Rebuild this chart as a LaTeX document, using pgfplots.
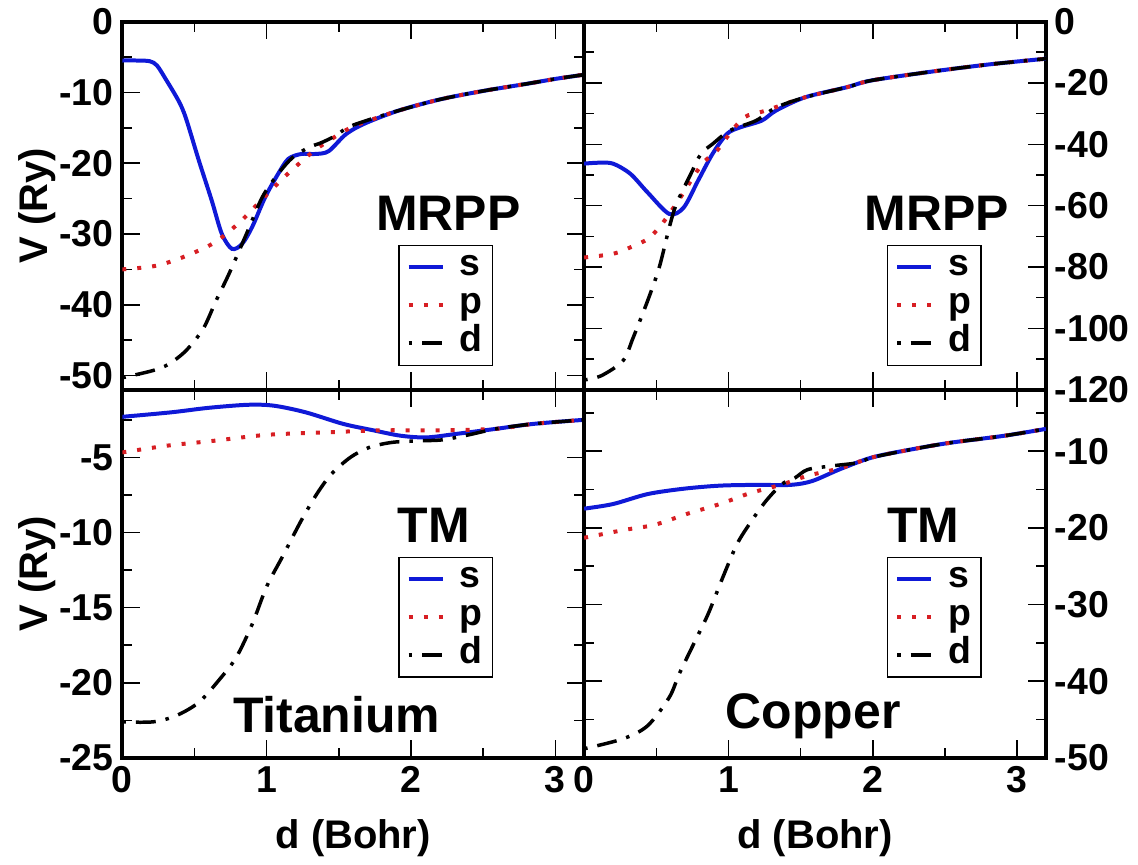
\documentclass[border=0pt]{standalone}
\usepackage{fontspec}
\setmainfont{Liberation Sans}
\usepackage{pgfplots}
\pgfplotsset{compat=1.18}
\usepgfplotslibrary{groupplots}

\definecolor{sblue}{RGB}{15,25,215}
\definecolor{pred}{RGB}{215,30,35}

\pgfplotsset{
  sline/.style={sblue, line width=1.6pt, smooth},
  pline/.style={pred, line width=1.6pt, dash pattern=on 1.6pt off 4.4pt, smooth},
  dline/.style={black, line width=1.4pt, dash pattern=on 1.4pt off 4pt on 8pt off 4pt, smooth},
  lgd/.style={legend style={at={(#1)}, anchor=north west, draw=black, line width=0.5pt,
      font=\bfseries\fontsize{15}{15}\selectfont, inner xsep=3pt, inner ysep=1.2pt,
      nodes={inner sep=1pt, text height=10pt, text depth=3.2pt},
      /tikz/every odd column/.append style={column sep=5pt},
      row sep=0pt, legend cell align=left}},
}
\tikzset{bigtxt/.style={font=\bfseries\fontsize{20}{20}\selectfont, anchor=base}}

\begin{document}
\begin{tikzpicture}
\begin{groupplot}[
  group style={group size=2 by 2, horizontal sep=0pt, vertical sep=0pt,
    x descriptions at=edge bottom},
  width=185pt, height=147.5pt, scale only axis,
  xmin=0, xmax=3.2, xtick={0,1,2,3}, minor xtick={0.5,1.5,2.5},
  tick align=inside, major tick length=7pt, minor tick length=4pt,
  every tick/.style={black, line width=0.6pt},
  axis line style={line width=1.6pt},
  tick label style={font=\bfseries\fontsize{15}{15}\selectfont},
  /pgf/number format/assume math mode=true,
  label style={font=\bfseries\fontsize{16}{16}\selectfont},
  xlabel={d (Bohr)}, xlabel shift=3.5pt, ylabel shift=-5.5pt,
  legend image code/.code={\draw[#1] (0pt,0pt) -- (13.6pt,0pt);},
]

% top left: Ti MRPP
\nextgroupplot[ymin=-52, ymax=0, ytick={0,-10,...,-50}, minor ytick={-5,-15,...,-45},
  ylabel={V (Ry)}, lgd={0.598,0.394}]
\coordinate (tl) at (rel axis cs:0,1);
\addplot[sline] coordinates {
 (0,-5.5) (0.1,-5.5) (0.19,-5.6) (0.24,-6.2) (0.30,-8.1) (0.39,-11.2) (0.44,-13.6)
 (0.53,-19.6) (0.62,-25.3) (0.69,-30.0) (0.76,-32.1) (0.83,-31.4) (0.9,-29) (0.99,-24.8)
 (1.08,-21.5) (1.15,-19.4) (1.24,-18.7) (1.34,-18.7) (1.43,-18.3) (1.55,-15.9) (1.68,-14.4)
 (1.91,-12.6) (2.2,-11.0) (2.5,-9.8) (2.8,-8.8) (3.0,-8.1) (3.2,-7.5)};
\addlegendentry{s}
\addplot[pline] coordinates {
 (0,-35) (0.23,-34.5) (0.43,-33.2) (0.64,-31.2) (0.81,-28.4) (0.96,-25.3) (1.12,-22)
 (1.29,-18.9) (1.38,-17.5) (1.57,-15.1) (1.68,-14.2) (1.91,-12.6) (2.2,-11.0) (2.5,-9.8)
 (2.8,-8.8) (3.0,-8.1) (3.2,-7.5)};
\addlegendentry{p}
\addplot[dline] coordinates {
 (0,-50.3) (0.21,-49.3) (0.32,-48.4) (0.44,-46.5) (0.56,-43.4) (0.65,-39.4) (0.74,-35.6)
 (0.86,-30) (0.97,-24.8) (1.08,-21.5) (1.18,-19.2) (1.29,-17.8) (1.38,-17.1) (1.48,-16.1)
 (1.59,-14.7) (1.91,-12.6) (2.2,-11.0) (2.5,-9.8) (2.8,-8.8) (3.0,-8.1) (3.2,-7.5)};
\addlegendentry{d}
\node[bigtxt] at (rel axis cs:0.706,0.432) {MRPP};

% top right: Cu MRPP
\nextgroupplot[ymin=-120, ymax=0, ytick={0,-20,...,-120}, minor ytick={-10,-30,...,-110},
  yticklabel pos=right, lgd={0.656,0.394}]
\addplot[sline] coordinates {
 (0,-46.3) (0.1,-46.0) (0.2,-46.3) (0.32,-49.6) (0.44,-55.7) (0.59,-62.7) (0.69,-60.6)
 (0.79,-51.8) (0.89,-43.1) (0.99,-36.6) (1.08,-34.5) (1.23,-32.3) (1.33,-29) (1.53,-24.7)
 (1.82,-21.4) (1.99,-19.2) (2.41,-16.3) (2.8,-14.0) (3.2,-12.1)};
\addlegendentry{s}
\addplot[pline] coordinates {
 (0,-76.9) (0.2,-75.7) (0.32,-73.6) (0.44,-70.9) (0.52,-67.1) (0.59,-62.7) (0.69,-55.7)
 (0.77,-49.6) (0.84,-45.3) (0.92,-42.1) (0.99,-37.7) (1.11,-31.2) (1.26,-29) (1.53,-24.7)
 (1.82,-21.4) (1.99,-19.2) (2.41,-16.3) (2.8,-14.0) (3.2,-12.1)};
\addlegendentry{p}
\addplot[dline] coordinates {
 (0,-116.8) (0.12,-115.4) (0.27,-110.5) (0.34,-103) (0.44,-91) (0.52,-80.2) (0.59,-67.1)
 (0.64,-59.4) (0.74,-49.6) (0.81,-43.1) (0.89,-39.9) (1.01,-35.5) (1.19,-32.3) (1.33,-28)
 (1.53,-24.7) (1.82,-21.4) (1.99,-19.2) (2.41,-16.3) (2.8,-14.0) (3.2,-12.1)};
\addlegendentry{d}
\node[bigtxt] at (rel axis cs:0.764,0.432) {MRPP};

% bottom left: Ti TM
\nextgroupplot[ymin=-25, ymax=-0.5, ytick={-5,-10,...,-25}, minor ytick={-2.5,-7.5,...,-22.5},
  ylabel={V (Ry)}, lgd={0.598,0.547}]
\addplot[sline] coordinates {
 (0,-2.3) (0.34,-2.0) (0.6,-1.7) (0.87,-1.5) (1.05,-1.56) (1.27,-2.0) (1.53,-2.77)
 (1.74,-3.2) (1.93,-3.56) (2.11,-3.67) (2.32,-3.43) (2.59,-3.1) (2.85,-2.77) (3.2,-2.5)};
\addlegendentry{s}
\addplot[pline] coordinates {
 (0,-4.67) (0.31,-4.22) (0.63,-3.9) (1.0,-3.5) (1.4,-3.34) (1.8,-3.2) (2.19,-3.2)
 (2.59,-3.1) (2.85,-2.77) (3.2,-2.5)};
\addlegendentry{p}
\addplot[dline] coordinates {
 (0,-22.6) (0.21,-22.6) (0.37,-22.2) (0.53,-21.3) (0.68,-19.7) (0.79,-18.3) (0.9,-16.1)
 (1.0,-13.6) (1.11,-11.6) (1.24,-9.2) (1.35,-7.4) (1.45,-6.1) (1.58,-5.0) (1.71,-4.34)
 (1.87,-4.0) (2.06,-3.9) (2.22,-3.83) (2.4,-3.5) (2.59,-3.1) (2.85,-2.77) (3.2,-2.5)};
\addlegendentry{d}
\node[bigtxt] at (rel axis cs:0.674,0.585) {TM};
\node[bigtxt] at (rel axis cs:0.464,0.068) {Titanium};

% bottom right: Cu TM
\nextgroupplot[ymin=-50, ymax=-2, ytick={-10,-20,...,-50}, minor ytick={-5,-15,...,-45},
  yticklabel pos=right, lgd={0.656,0.547}]
\addplot[sline] coordinates {
 (0,-17.5) (0.2,-16.9) (0.44,-15.6) (0.69,-14.9) (0.94,-14.5) (1.19,-14.4) (1.43,-14.4)
 (1.58,-13.9) (1.78,-12.3) (2.0,-10.8) (2.29,-9.7) (2.54,-8.9) (2.91,-8.0) (3.2,-7.1)};
\addlegendentry{s}
\addplot[pline] coordinates {
 (0,-21.3) (0.27,-20.3) (0.49,-19.6) (0.71,-18.2) (0.94,-16.9) (1.13,-15.6) (1.26,-14.9)
 (1.38,-14.3) (1.55,-13.2) (1.78,-12.2) (2.0,-10.8) (2.29,-9.7) (2.54,-8.9) (2.91,-8.0)
 (3.2,-7.1)};
\addlegendentry{p}
\addplot[dline] coordinates {
 (0,-48.8) (0.27,-47.5) (0.44,-45.8) (0.59,-42.1) (0.66,-39) (0.76,-35.1) (0.86,-31.2)
 (0.96,-26.5) (1.06,-22.1) (1.16,-19.1) (1.26,-16.5) (1.37,-14.3) (1.46,-13.5) (1.55,-12.4)
 (1.73,-11.9) (1.9,-11.5) (2.0,-10.8) (2.29,-9.7) (2.54,-8.9) (2.91,-8.0) (3.2,-7.1)};
\addlegendentry{d}
\node[bigtxt] at (rel axis cs:0.734,0.585) {TM};
\node[bigtxt] at (rel axis cs:0.496,0.081) {Copper};
\end{groupplot}
% blank margin above and to the left, as in the reference
\node[inner sep=0pt, minimum size=0pt] at ([shift={(-49pt,8.4pt)}]tl) {};
\end{tikzpicture}
\end{document}
